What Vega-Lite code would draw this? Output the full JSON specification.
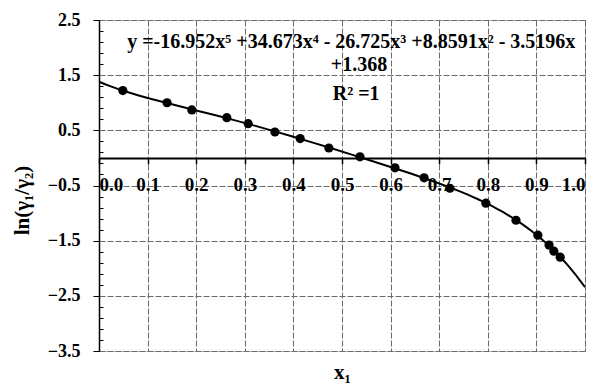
{
  "$schema": "https://vega.github.io/schema/vega-lite/v6.json",
  "width": 486,
  "height": 331,
  "autosize": "none",
  "padding": {"left": 99, "top": 20, "right": 13, "bottom": 39},
  "background": "white",
  "config": {
    "view": {"stroke": "#888888", "strokeDash": [1, 1], "strokeWidth": 1},
    "font": "Liberation Serif"
  },
  "data": {
    "values": [
      {"x": 0.049, "y": 1.22},
      {"x": 0.140, "y": 1.00},
      {"x": 0.191, "y": 0.87},
      {"x": 0.263, "y": 0.73},
      {"x": 0.307, "y": 0.62},
      {"x": 0.362, "y": 0.47},
      {"x": 0.414, "y": 0.35},
      {"x": 0.473, "y": 0.18},
      {"x": 0.537, "y": 0.02},
      {"x": 0.609, "y": -0.18},
      {"x": 0.669, "y": -0.36},
      {"x": 0.722, "y": -0.55},
      {"x": 0.796, "y": -0.82},
      {"x": 0.858, "y": -1.13},
      {"x": 0.903, "y": -1.40},
      {"x": 0.926, "y": -1.58},
      {"x": 0.936, "y": -1.69},
      {"x": 0.949, "y": -1.80}
    ]
  },
  "resolve": {"axis": {"y": "independent", "x": "independent"}},
  "layer": [
    {
      "transform": [
        {"regression": "y", "on": "x", "method": "poly", "order": 5, "extent": [0, 1]}
      ],
      "mark": {"type": "line", "color": "black", "strokeWidth": 2, "clip": true},
      "encoding": {
        "x": {"field": "x", "type": "quantitative", "scale": {"domain": [0, 1], "nice": false, "zero": false}, "axis": null},
        "y": {
          "field": "y", "type": "quantitative",
          "scale": {"domain": [-3.5, 2.5], "nice": false, "zero": false},
          "axis": {
            "orient": "left",
            "values": [2.3, 2.1, 1.9, 1.7, 1.3, 1.1, 0.9, 0.7, 0.3, 0.1, -0.1, -0.3, -0.7, -0.9, -1.1, -1.3, -1.7, -1.9, -2.1, -2.3, -2.7, -2.9, -3.1, -3.3],
            "domain": false, "labels": false, "grid": false,
            "ticks": true, "tickSize": -4, "tickColor": "black", "tickWidth": 1,
            "title": null
          }
        }
      }
    },
    {
      "mark": {"type": "point", "filled": true, "color": "black", "opacity": 1, "size": 85},
      "encoding": {
        "x": {
          "field": "x", "type": "quantitative",
          "scale": {"domain": [0, 1], "nice": false, "zero": false},
          "axis": {
            "values": [0, 0.1, 0.2, 0.3, 0.4, 0.5, 0.6, 0.7, 0.8, 0.9, 1.0],
            "format": ".1f",
            "offset": -193.1,
            "domainColor": "black", "domainWidth": 2,
            "tickColor": "black", "tickSize": 6, "tickWidth": 1.5,
            "labelFont": "Liberation Serif", "labelFontWeight": "bold", "labelFontSize": 19,
            "labelColor": "black", "labelPadding": 12, "labelBaseline": "top",
            "grid": true, "gridColor": "#6a6a6a", "gridDash": [6, 2], "gridWidth": 1,
            "title": "x₁",
            "titleFont": "Liberation Serif", "titleFontSize": 21, "titleFontWeight": "bold", "titleColor": "black",
            "titleY": 221, "titleBaseline": "alphabetic"
          }
        },
        "y": {
          "field": "y", "type": "quantitative",
          "scale": {"domain": [-3.5, 2.5], "nice": false, "zero": false},
          "axis": {
            "orient": "left",
            "values": [2.5, 1.5, 0.5, -0.5, -1.5, -2.5, -3.5],
            "format": ".1f",
            "domainColor": "black", "domainWidth": 1.5,
            "tickColor": "black", "tickSize": 6, "tickWidth": 1,
            "labelFont": "Liberation Serif", "labelFontWeight": "bold", "labelFontSize": 18,
            "labelColor": "black", "labelPadding": 13,
            "grid": true, "gridColor": "#6a6a6a", "gridDash": [6, 2], "gridWidth": 1,
            "title": "ln(γ₁/γ₂)",
            "titleFont": "Liberation Serif", "titleFontSize": 21, "titleFontWeight": "bold", "titleColor": "black",
            "titleAngle": -90, "titleX": -77, "titleY": 180, "titleAlign": "center", "titleBaseline": "middle"
          }
        }
      }
    },
    {
      "data": {"values": [{}]},
      "mark": {"type": "text", "align": "left", "baseline": "alphabetic", "font": "Liberation Serif", "fontWeight": "bold", "fontSize": 20, "color": "black"},
      "encoding": {
        "x": {"datum": 0.058, "type": "quantitative", "axis": null},
        "y": {"datum": 2.0, "type": "quantitative", "axis": null},
        "text": {"value": "y =-16.952x⁵ +34.673x⁴ - 26.725x³ +8.8591x² - 3.5196x"}
      }
    },
    {
      "data": {"values": [{}]},
      "mark": {"type": "text", "align": "left", "baseline": "alphabetic", "font": "Liberation Serif", "fontWeight": "bold", "fontSize": 20, "color": "black"},
      "encoding": {
        "x": {"datum": 0.477, "type": "quantitative", "axis": null},
        "y": {"datum": 1.57, "type": "quantitative", "axis": null},
        "text": {"value": "+1.368"}
      }
    },
    {
      "data": {"values": [{}]},
      "mark": {"type": "text", "align": "left", "baseline": "alphabetic", "font": "Liberation Serif", "fontWeight": "bold", "fontSize": 20, "color": "black"},
      "encoding": {
        "x": {"datum": 0.481, "type": "quantitative", "axis": null},
        "y": {"datum": 1.05, "type": "quantitative", "axis": null},
        "text": {"value": "R² =1"}
      }
    }
  ]
}
